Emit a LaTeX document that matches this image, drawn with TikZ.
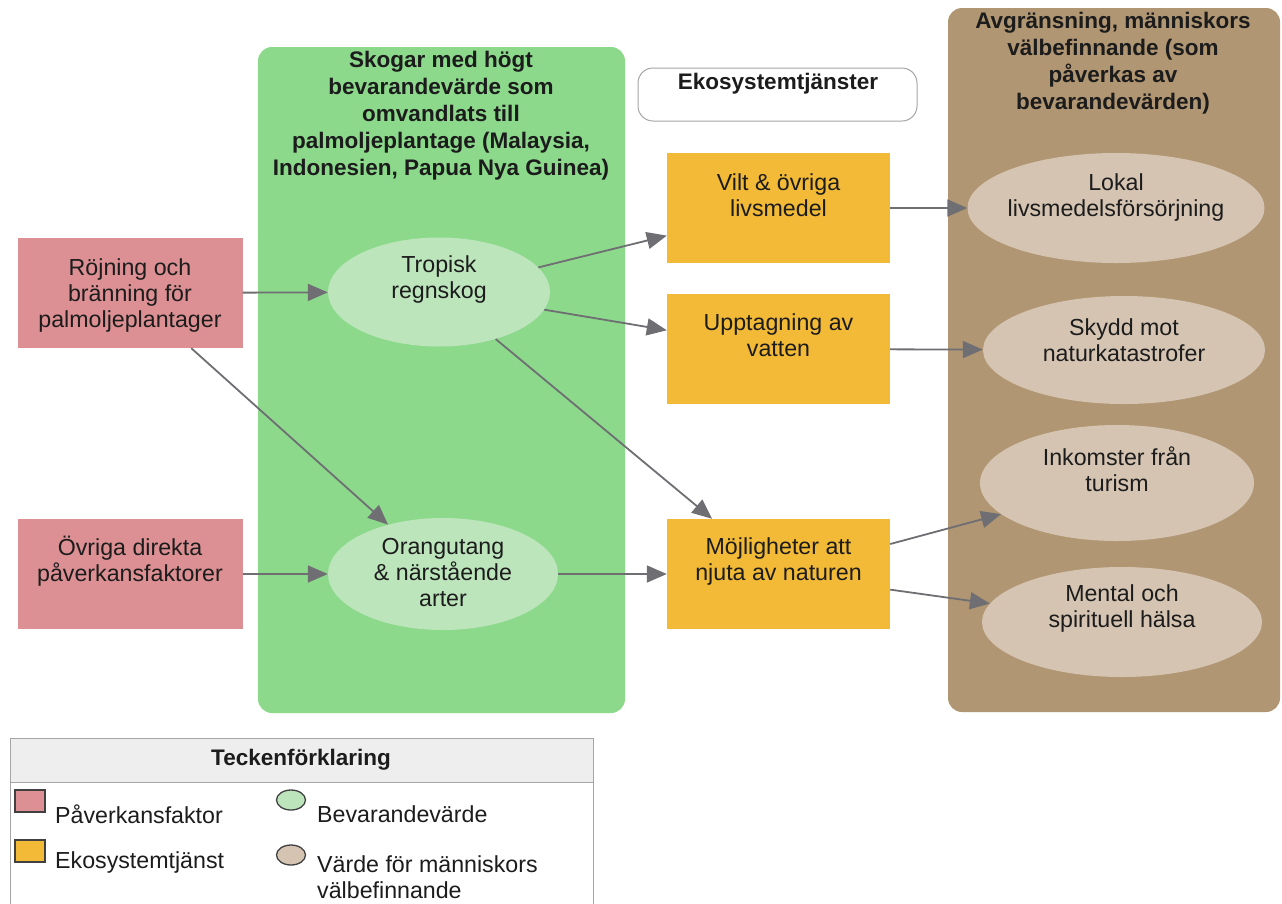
\documentclass[tikz,border=0pt]{standalone}
\usepackage{fontspec}
\setmainfont{Liberation Sans}
\usetikzlibrary{shapes.geometric,arrows.meta}

\definecolor{panelgreen}{HTML}{8CD98C}
\definecolor{ellgreen}{HTML}{BCE5BC}
\definecolor{pressred}{HTML}{DC9093}
\definecolor{servorange}{HTML}{F2BA36}
\definecolor{panelbrown}{HTML}{B09672}
\definecolor{ellbrown}{HTML}{D5C4B2}
\definecolor{linkgray}{HTML}{6E6E73}
\definecolor{textcol}{HTML}{1C1C1C}
\definecolor{legendhead}{HTML}{EEEEEE}
\definecolor{framegray}{HTML}{A5A5A5}

\begin{document}
\begin{tikzpicture}[x=1pt,y=-1pt,
  txt/.style={align=center, font=\fontsize{23.2}{26}\selectfont, text=textcol, inner sep=0pt},
  ttl/.style={txt, font=\bfseries\fontsize{22.5}{27}\selectfont},
  pressure/.style={rectangle, fill=pressred, minimum width=225pt, minimum height=110pt, inner sep=0pt},
  service/.style={rectangle, fill=servorange, minimum width=223pt, minimum height=110pt, inner sep=0pt},
  consval/.style={ellipse, fill=ellgreen, inner sep=0pt},
  wellval/.style={ellipse, fill=ellbrown, inner sep=0pt},
  link/.style={draw=linkgray, line width=1.8pt, -{Triangle[length=20pt,width=17pt]}},
  legtxt/.style={txt, anchor=west, align=left},
  legsym/.style={draw=black!75, line width=1.3pt, inner sep=0pt}
]
\useasboundingbox (0,0) rectangle (1282,903);

% background panels
\node[fill=panelgreen, rounded corners=14pt, minimum width=367pt, minimum height=666pt, inner sep=0pt] (forest) at (441.5,380) {};
\node[fill=panelbrown, rounded corners=14pt, minimum width=332pt, minimum height=704pt, inner sep=0pt] (wellbeing) at (1114,360) {};

% panel titles
\node[ttl] (forest-t) at (441,116) {Skogar med högt\\bevarandevärde som\\omvandlats till\\palmoljeplantage (Malaysia,\\Indonesien, Papua Nya Guinea)};
\node[ttl] (wellbeing-t) at (1113,63) {Avgränsning, människors\\välbefinnande (som\\påverkas av\\bevarandevärden)};
\node[draw=framegray, line width=1pt, fill=white, rounded corners=15pt, minimum width=279pt, minimum height=53pt, inner sep=0pt] (es) at (777.5,94.5) {};
\node[ttl] (es-t) at (778,84) {Ekosystemtjänster};

% pressures
\node[pressure] (rojn) at (130,293) {};
\node[txt] (rojn-t) at (130,295) {Röjning och\\bränning för\\palmoljeplantager};
\node[pressure] (ovr) at (130,574) {};
\node[txt] (ovr-t) at (130,561) {Övriga direkta\\påverkansfaktorer};

% conservation values
\node[consval, minimum width=222pt, minimum height=109pt] (trop) at (439,292) {};
\node[txt] (trop-t) at (439,279) {Tropisk\\regnskog};
\node[consval, minimum width=230pt, minimum height=112pt] (orang) at (443,574) {};
\node[txt] (orang-t) at (443,573) {Orangutang\\\& närstående\\arter};

% ecosystem services
\node[service] (vilt) at (778.5,208) {};
\node[txt] (vilt-t) at (778.5,195) {Vilt \& övriga\\livsmedel};
\node[service] (uppt) at (778.5,349) {};
\node[txt] (uppt-t) at (778.5,335) {Upptagning av\\vatten};
\node[service] (moj) at (778.5,574) {};
\node[txt] (moj-t) at (778.5,561) {Möjligheter att\\njuta av naturen};

% human well-being values
\node[wellval, minimum width=297pt, minimum height=110pt] (lokal) at (1116,208) {};
\node[txt] (lokal-t) at (1116,197) {Lokal\\livsmedelsförsörjning};
\node[wellval, minimum width=282pt, minimum height=108pt] (skydd) at (1124,350) {};
\node[txt] (skydd-t) at (1124,340) {Skydd mot\\naturkatastrofer};
\node[wellval, minimum width=274pt, minimum height=116pt] (inkomst) at (1117,483) {};
\node[txt] (inkomst-t) at (1117,469) {Inkomster från\\turism};
\node[wellval, minimum width=280pt, minimum height=110pt] (mental) at (1122,622) {};
\node[txt] (mental-t) at (1122,608) {Mental och\\spirituell hälsa};

% connectors
\draw[link] (rojn) -- (trop);
\draw[link] (rojn) -- (orang);
\draw[link] (ovr) -- (orang);
\draw[link] (trop) -- (vilt);
\draw[link] (trop) -- (uppt);
\draw[link] (trop) -- (moj);
\draw[link] (orang) -- (moj);
\draw[link] (vilt) -- (lokal);
\draw[link] (uppt) -- (skydd);
\draw[link] (moj) -- (inkomst);
\draw[link] (moj) -- (mental);

% legend
\node[draw=framegray, line width=1pt, fill=white, minimum width=583pt, minimum height=175pt, inner sep=0pt, anchor=north west] (legend) at (10,738) {};
\node[draw=framegray, line width=1pt, fill=legendhead, minimum width=583pt, minimum height=44pt, inner sep=0pt, anchor=north west] (legend-head) at (10,738) {};
\node[ttl] (legend-t) at (301,760) {Teckenförklaring};
\node[legsym, rectangle, fill=pressred, minimum width=30pt, minimum height=22pt] (lg-p) at (30,801) {};
\node[legtxt] (lg-p-t) at (55,814) {Påverkansfaktor};
\node[legsym, rectangle, fill=servorange, minimum width=30pt, minimum height=22pt] (lg-s) at (30,851) {};
\node[legtxt] (lg-s-t) at (55,862) {Ekosystemtjänst};
\node[legsym, ellipse, fill=ellgreen, minimum width=29pt, minimum height=20pt] (lg-c) at (291,800) {};
\node[legtxt] (lg-c-t) at (317,814) {Bevarandevärde};
\node[legsym, ellipse, fill=ellbrown, minimum width=29pt, minimum height=20pt] (lg-w) at (291,855) {};
\node[legtxt] (lg-w-t) at (317,877) {Värde för människors\\välbefinnande};
\end{tikzpicture}
\end{document}
